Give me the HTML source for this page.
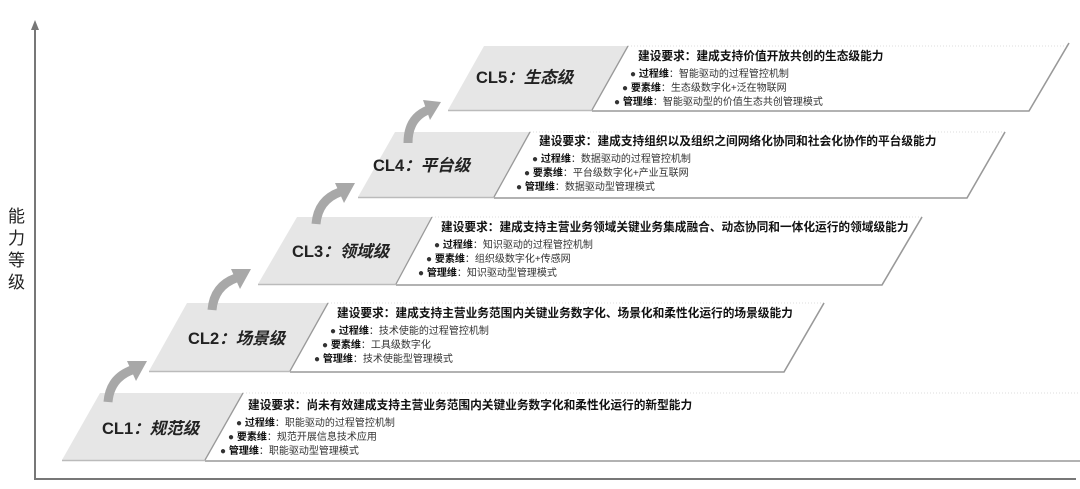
<!DOCTYPE html>
<html><head><meta charset="utf-8"><style>
html,body{margin:0;padding:0;background:#fff;}
svg{display:block;}
text{font-family:"Liberation Sans","Noto Sans CJK SC",sans-serif;}
.h{font-size:11.7px;font-weight:bold;fill:#111;}
.b{font-size:10px;fill:#333;}
.bb{font-weight:bold;fill:#111;}
.cl{font-size:16.5px;font-weight:bold;fill:#222;}
.ci{font-style:italic;}
</style></head><body>
<svg width="1080" height="489" viewBox="0 0 1080 489" xmlns="http://www.w3.org/2000/svg">
<!-- axes -->
<line x1="35" y1="27" x2="35" y2="479" stroke="#777" stroke-width="2"/>
<polygon points="35,20 31,30 39,30" fill="#777"/>
<line x1="34" y1="479" x2="1076" y2="479" stroke="#777" stroke-width="2"/>
<text x="8" y="222" style="font-size:17px;fill:#222">能</text>
<text x="8" y="244" style="font-size:17px;fill:#222">力</text>
<text x="8" y="266" style="font-size:17px;fill:#222">等</text>
<text x="8" y="288" style="font-size:17px;fill:#222">级</text>

<!-- CL1 -->
<g>
<polygon points="100,393 243,393 205,460 62,460" fill="#e6e6e6"/>
<line x1="62" y1="460.5" x2="205" y2="460.5" stroke="#bbb" stroke-width="1.5"/>
<line x1="243" y1="393" x2="1080" y2="393" stroke="#ddd" stroke-dasharray="1,2"/>
<line x1="243" y1="393" x2="205" y2="460" stroke="#999" stroke-width="1.3"/>
<line x1="205" y1="461" x2="1080" y2="461" stroke="#999" stroke-width="1.6"/>
</g>
<!-- CL2 -->
<g>
<polygon points="187,303 328,303 290,371 149,371" fill="#e6e6e6"/>
<line x1="149" y1="371.5" x2="290" y2="371.5" stroke="#bbb" stroke-width="1.5"/>
<line x1="328" y1="303" x2="824" y2="303" stroke="#ddd" stroke-dasharray="1,2"/>
<line x1="328" y1="303" x2="290" y2="371" stroke="#999" stroke-width="1.3"/>
<polyline points="290,372 784,372 824,303" fill="none" stroke="#999" stroke-width="1.6"/>
</g>
<!-- CL3 -->
<g>
<polygon points="297,217 432,217 396,284 258,284" fill="#e6e6e6"/>
<line x1="258" y1="284.5" x2="396" y2="284.5" stroke="#bbb" stroke-width="1.5"/>
<line x1="432" y1="217" x2="922" y2="217" stroke="#ddd" stroke-dasharray="1,2"/>
<line x1="432" y1="217" x2="396" y2="284" stroke="#999" stroke-width="1.3"/>
<polyline points="396,285 882,285 922,217" fill="none" stroke="#999" stroke-width="1.6"/>
</g>
<!-- CL4 -->
<g>
<polygon points="395,132 530,132 494,197 358,197" fill="#e6e6e6"/>
<line x1="358" y1="197.5" x2="494" y2="197.5" stroke="#bbb" stroke-width="1.5"/>
<line x1="530" y1="132" x2="1005" y2="132" stroke="#ddd" stroke-dasharray="1,2"/>
<line x1="530" y1="132" x2="494" y2="197" stroke="#999" stroke-width="1.3"/>
<polyline points="494,198 967,198 1005,132" fill="none" stroke="#999" stroke-width="1.6"/>
</g>
<!-- CL5 -->
<g>
<polygon points="484,46 628,46 592,110 448,110" fill="#e6e6e6"/>
<line x1="448" y1="110.5" x2="592" y2="110.5" stroke="#bbb" stroke-width="1.5"/>
<line x1="628" y1="46" x2="1069" y2="46" stroke="#ddd" stroke-dasharray="1,2"/>
<line x1="628" y1="46" x2="592" y2="110" stroke="#999" stroke-width="1.3"/>
<polyline points="592,111 1029,111 1069,43" fill="none" stroke="#999" stroke-width="1.6"/>
</g>

<!-- arrows -->
<g fill="none" stroke="#a8a8a8" stroke-width="9">
<path d="M108,402 Q110,378 132,370"/>
<path d="M212,310 Q214,286 236,278"/>
<path d="M316,224 Q318,200 340,192"/>
<path d="M408,143 Q408,118 428,110"/>
</g>
<g fill="#a8a8a8">
<polygon points="127,361 147,361 136,381"/>
<polygon points="231,269 251,269 240,289"/>
<polygon points="335,183 355,183 344,203"/>
<polygon points="423,100 441,102 430,120"/>
</g>

<!-- labels -->
<text class="cl" x="102" y="434">CL1<tspan class="ci">：规范级</tspan></text>
<text class="cl" x="188" y="344">CL2<tspan class="ci">：场景级</tspan></text>
<text class="cl" x="292" y="257">CL3<tspan class="ci">：领域级</tspan></text>
<text class="cl" x="373" y="171">CL4<tspan class="ci">：平台级</tspan></text>
<text class="cl" x="476" y="83">CL5<tspan class="ci">：生态级</tspan></text>

<!-- CL1 text -->
<text class="h" x="248" y="409">建设要求：尚未有效建成支持主营业务范围内关键业务数字化和柔性化运行的新型能力</text>
<text class="b" x="236" y="426">● <tspan class="bb">过程维</tspan>：职能驱动的过程管控机制</text>
<text class="b" x="228" y="440">● <tspan class="bb">要素维</tspan>：规范开展信息技术应用</text>
<text class="b" x="220" y="454">● <tspan class="bb">管理维</tspan>：职能驱动型管理模式</text>
<!-- CL2 -->
<text class="h" x="337" y="317">建设要求：建成支持主营业务范围内关键业务数字化、场景化和柔性化运行的场景级能力</text>
<text class="b" x="330" y="334">● <tspan class="bb">过程维</tspan>：技术使能的过程管控机制</text>
<text class="b" x="322" y="348">● <tspan class="bb">要素维</tspan>：工具级数字化</text>
<text class="b" x="314" y="362">● <tspan class="bb">管理维</tspan>：技术使能型管理模式</text>
<!-- CL3 -->
<text class="h" x="441" y="231">建设要求：建成支持主营业务领域关键业务集成融合、动态协同和一体化运行的领域级能力</text>
<text class="b" x="434" y="248">● <tspan class="bb">过程维</tspan>：知识驱动的过程管控机制</text>
<text class="b" x="426" y="262">● <tspan class="bb">要素维</tspan>：组织级数字化+传感网</text>
<text class="b" x="418" y="276">● <tspan class="bb">管理维</tspan>：知识驱动型管理模式</text>
<!-- CL4 -->
<text class="h" x="539" y="145">建设要求：建成支持组织以及组织之间网络化协同和社会化协作的平台级能力</text>
<text class="b" x="532" y="162">● <tspan class="bb">过程维</tspan>：数据驱动的过程管控机制</text>
<text class="b" x="524" y="176">● <tspan class="bb">要素维</tspan>：平台级数字化+产业互联网</text>
<text class="b" x="516" y="190">● <tspan class="bb">管理维</tspan>：数据驱动型管理模式</text>
<!-- CL5 -->
<text class="h" x="638" y="60">建设要求：建成支持价值开放共创的生态级能力</text>
<text class="b" x="630" y="77">● <tspan class="bb">过程维</tspan>：智能驱动的过程管控机制</text>
<text class="b" x="622" y="91">● <tspan class="bb">要素维</tspan>：生态级数字化+泛在物联网</text>
<text class="b" x="614" y="105">● <tspan class="bb">管理维</tspan>：智能驱动型的价值生态共创管理模式</text>
</svg>
</body></html>
